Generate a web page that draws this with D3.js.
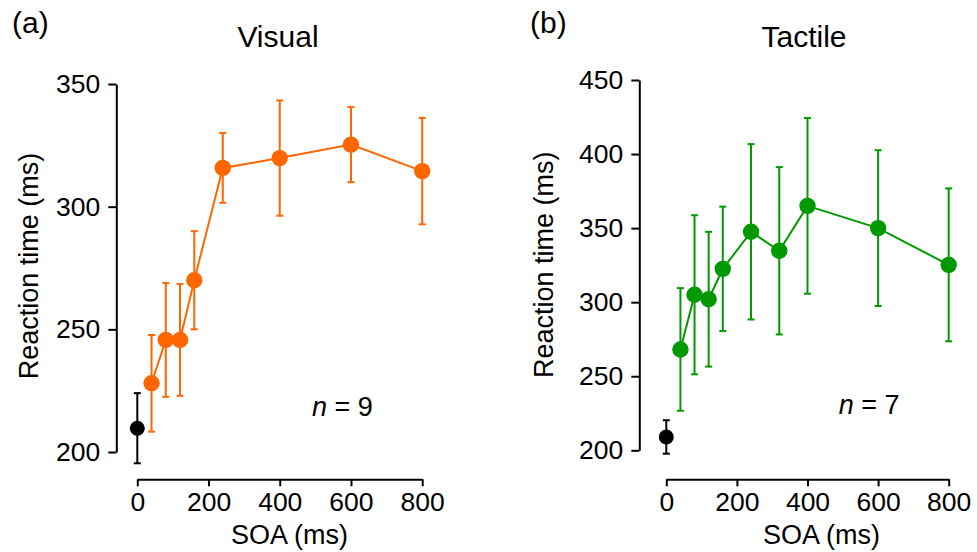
<!DOCTYPE html>
<html>
<head>
<meta charset="utf-8">
<script src="https://cdn.jsdelivr.net/npm/d3@7"></script>
<style>
  html, body { margin: 0; padding: 0; background: #fff; }
  svg { display: block; font-family: "Liberation Sans", Arial, sans-serif; }
</style>
</head>
<body>
<svg id="chart" width="977" height="552"></svg>
<script>
// ---------- data ----------
const visualSOA   = [40, 80, 120, 160, 240, 400, 600, 800];
const visualRT    = [228, 245.7, 245.7, 270, 315.8, 319.8, 325.3, 314.5];
const visualErr   = [19.7, 23.2, 22.8, 20, 14.2, 23.5, 15.3, 21.7];
const visualBase  = { soa: 0, rt: 209.7, err: 14.3 };

const tactileSOA  = [40, 80, 120, 160, 240, 320, 400, 600, 800];
const tactileRT   = [268.1, 305, 302, 322.5, 347.5, 334.7, 365, 350, 325.2];
const tactileErr  = [41.4, 53.7, 45.5, 42, 59.2, 56.5, 59.3, 52.6, 51.6];
const tactileBase = { soa: 0, rt: 209, err: 11.3 };

const xTicks = [0, 200, 400, 600, 800];
const visualYTicks  = [200, 250, 300, 350];
const tactileYTicks = [200, 250, 300, 350, 400, 450];

// ---------- drawing ----------
const svg = d3.select("#chart");

function panel(cfg) {
  const g = svg.append("g");
  const x = d3.scaleLinear().domain([0, 800]).range(cfg.xr);
  const y = d3.scaleLinear().domain(cfg.yd).range(cfg.yr);

  // y axis
  const ya = g.append("g").attr("transform", `translate(${cfg.yAxisX},0)`)
    .call(d3.axisLeft(y).tickValues(cfg.yTicks).tickSize(8).tickSizeOuter(0).tickPadding(8).tickFormat(d3.format("d")));
  // x axis
  const xa = g.append("g").attr("transform", `translate(0,${cfg.xAxisY})`)
    .call(d3.axisBottom(x).tickValues(xTicks).tickSize(7).tickSizeOuter(0).tickPadding(6).tickFormat(d3.format("d")));
  [ya, xa].forEach(a => {
    a.select(".domain").attr("stroke", "#000").attr("stroke-width", 2);
    a.selectAll(".tick line").attr("stroke", "#000").attr("stroke-width", 2);
    a.selectAll(".tick text").attr("fill", "#000").style("font-size", "26.5px")
      .style("font-family", '"Liberation Sans", Arial, sans-serif');
  });
  xa.selectAll(".tick text").attr("dy", "0.71em");

  const data = cfg.soa.map((s, i) => ({ s, v: cfg.rt[i], e: cfg.err[i] }));
  const all = [{ s: cfg.base.soa, v: cfg.base.rt, e: cfg.base.err, base: true }].concat(data);
  const cap = 3.5;

  // error bars
  const eb = g.append("g").selectAll("g").data(all).join("g")
    .attr("stroke", d => d.base ? "#000" : cfg.color).attr("stroke-width", 2).attr("fill", "none");
  eb.append("line").attr("x1", d => x(d.s)).attr("x2", d => x(d.s))
    .attr("y1", d => y(d.v - d.e)).attr("y2", d => y(d.v + d.e));
  eb.append("line").attr("x1", d => x(d.s) - cap).attr("x2", d => x(d.s) + cap)
    .attr("y1", d => y(d.v + d.e)).attr("y2", d => y(d.v + d.e));
  eb.append("line").attr("x1", d => x(d.s) - cap).attr("x2", d => x(d.s) + cap)
    .attr("y1", d => y(d.v - d.e)).attr("y2", d => y(d.v - d.e));

  // line
  g.append("path").datum(data)
    .attr("d", d3.line().x(d => x(d.s)).y(d => y(d.v)))
    .attr("fill", "none").attr("stroke", cfg.color).attr("stroke-width", 2);

  // points
  g.append("g").selectAll("circle").data(all).join("circle")
    .attr("cx", d => x(d.s)).attr("cy", d => y(d.v))
    .attr("r", d => d.base ? 7.5 : 8.2)
    .attr("fill", d => d.base ? "#000" : cfg.color);

  // texts
  g.append("text").attr("x", cfg.letterX).attr("y", 33).attr("font-size", 30).text(cfg.letter);
  g.append("text").attr("x", cfg.titleX).attr("y", 47).attr("font-size", 30)
    .attr("text-anchor", "middle").text(cfg.title);
  g.append("text").attr("transform", `translate(${cfg.ylabX},${cfg.ylabY}) rotate(-90)`)
    .attr("font-size", 27).attr("text-anchor", "middle").text("Reaction time (ms)");
  g.append("text").attr("x", cfg.xlabX).attr("y", 544).attr("font-size", 27)
    .attr("text-anchor", "middle").text("SOA (ms)");
  const nt = g.append("text").attr("x", cfg.nX).attr("y", cfg.nY).attr("font-size", 27);
  nt.append("tspan").attr("font-style", "italic").text("n");
  nt.append("tspan").text(" = " + cfg.n);
}

panel({
  xr: [137.3, 422.2], yd: [200, 350], yr: [452, 84],
  yAxisX: 116.3, xAxisY: 479.3, yTicks: visualYTicks,
  soa: visualSOA, rt: visualRT, err: visualErr, base: visualBase,
  color: "#ff6600",
  letter: "(a)", letterX: 12, title: "Visual", titleX: 278,
  ylabX: 37.5, ylabY: 266, xlabX: 289.5,
  n: 9, nX: 312, nY: 416
});

panel({
  xr: [666.3, 948.7], yd: [200, 450], yr: [450.3, 80],
  yAxisX: 639.3, xAxisY: 479.3, yTicks: tactileYTicks,
  soa: tactileSOA, rt: tactileRT, err: tactileErr, base: tactileBase,
  color: "#009900",
  letter: "(b)", letterX: 530, title: "Tactile", titleX: 804,
  ylabX: 553.3, ylabY: 264.7, xlabX: 821.5,
  n: 7, nX: 838.7, nY: 413.7
});
</script>
</body>
</html>
